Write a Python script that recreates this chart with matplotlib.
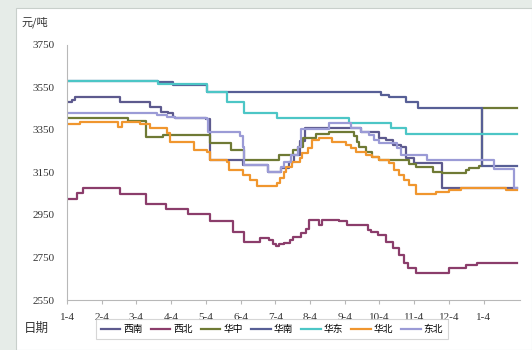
import matplotlib
matplotlib.use("Agg")
import matplotlib.pyplot as plt
from matplotlib.patches import Rectangle

plt.rcParams['font.family'] = ['Liberation Serif', 'Noto Sans CJK SC', 'DejaVu Sans']

# month positions (0 = Jan 4) and tick labels
tick_pos = list(range(13))
tick_labels = ["1-4", "2-4", "3-4", "4-4", "5-4", "6-4", "7-4", "8-4",
               "9-4", "10-4", "11-4", "12-4", "1-4"]
x_end = 12.96

# price series (元/吨): step change points as (month, price)
xinan_x = [0, 0.14, 0.23, 1.53, 2.38, 2.72, 2.91, 3.06, 3.10, 4.00, 4.11, 5.06, 5.78,
           6.17, 6.40, 6.55, 6.70, 6.85, 8.48, 8.99, 9.20, 9.40, 9.62, 9.77, 10.00, 10.81]
xinan_y = [3480, 3492, 3504, 3480, 3460, 3436, 3429, 3413, 3405, 3400, 3209, 3185, 3154,
           3170, 3200, 3232, 3300, 3358, 3342, 3311, 3303, 3279, 3271, 3217, 3195, 3076]

xibei_x = [0, 0.28, 0.47, 1.52, 2.29, 2.84, 3.48, 4.13, 4.78, 5.10, 5.55, 5.81, 5.93,
           6.03, 6.12, 6.26, 6.41, 6.50, 6.74, 6.89, 6.98, 7.27, 7.36, 7.84, 8.08, 8.66,
           8.76, 8.95, 9.19, 9.38, 9.57, 9.71, 9.81, 10.05, 11.01, 11.49, 11.82]
xibei_y = [3025, 3052, 3076, 3049, 3000, 2977, 2953, 2923, 2871, 2824, 2840, 2830, 2815,
           2804, 2812, 2818, 2830, 2848, 2864, 2883, 2926, 2905, 2926, 2920, 2903, 2879,
           2868, 2856, 2824, 2793, 2762, 2723, 2699, 2676, 2699, 2715, 2726]

huazhong_x = [0, 1.75, 2.29, 2.76, 4.11, 4.73, 5.11, 6.12, 6.50, 6.65, 6.79, 7.17, 7.56,
              8.28, 8.35, 8.42, 8.60, 8.80, 8.99, 9.86, 10.05, 10.53, 10.81, 11.49, 11.58,
              11.87, 11.96]
huazhong_y = [3405, 3392, 3318, 3328, 3287, 3256, 3209, 3232, 3256, 3271, 3311, 3331, 3342,
              3320, 3295, 3268, 3245, 3224, 3209, 3190, 3177, 3154, 3146, 3160, 3170,
              3181, 3455]

huanan_x = [0, 2.61, 3.05, 4.02, 9.04, 9.28, 9.77, 10.11, 11.96]
huanan_y = [3582, 3574, 3562, 3530, 3515, 3507, 3483, 3455, 3181]

huadong_x = [0, 2.61, 4.02, 4.60, 5.11, 6.06, 8.13, 9.33, 9.76]
huadong_y = [3582, 3566, 3530, 3483, 3431, 3408, 3382, 3358, 3331]

huabei_x = [0, 0.37, 1.47, 1.58, 2.10, 2.39, 2.87, 2.96, 3.65, 4.02, 4.11, 4.60, 4.68,
            5.06, 5.26, 5.46, 6.06, 6.15, 6.24, 6.32, 6.49, 6.70, 6.78, 6.93, 7.07, 7.27,
            7.64, 8.05, 8.19, 8.33, 8.62, 8.79, 8.99, 9.28, 9.43, 9.57, 9.71, 9.86, 10.06,
            10.63, 11.01, 11.35, 12.64]
huabei_y = [3380, 3388, 3365, 3388, 3378, 3360, 3336, 3295, 3256, 3246, 3209, 3200, 3162,
            3138, 3115, 3088, 3101, 3125, 3150, 3175, 3200, 3218, 3240, 3265, 3303, 3312,
            3295, 3280, 3265, 3248, 3232, 3224, 3209, 3193, 3162, 3138, 3115, 3091, 3050,
            3060, 3068, 3076, 3068]

dongbei_x = [0, 0.57, 2.58, 2.87, 3.10, 4.02, 4.06, 4.97, 5.06, 5.11, 5.78, 6.17, 6.26,
             6.46, 6.65, 6.74, 7.56, 8.18, 8.47, 8.71, 8.85, 8.99, 9.52, 9.62, 10.38,
             12.30, 12.87]
dongbei_y = [3429, 3432, 3422, 3413, 3405, 3400, 3340, 3320, 3271, 3185, 3154, 3177, 3200,
             3232, 3271, 3353, 3382, 3358, 3342, 3326, 3303, 3287, 3264, 3232, 3209,
             3165, 3076]

series = [
    ("西南", xinan_x, xinan_y, "#5d5a8e"),
    ("西北", xibei_x, xibei_y, "#8b3d6b"),
    ("华中", huazhong_x, huazhong_y, "#6f7a35"),
    ("华南", huanan_x, huanan_y, "#575f96"),
    ("华东", huadong_x, huadong_y, "#4cc6c6"),
    ("华北", huabei_x, huabei_y, "#f0962e"),
    ("东北", dongbei_x, dongbei_y, "#9b9bd6"),
]

fig = plt.figure(figsize=(5.32, 3.5), dpi=100, facecolor="#e6ece8")
# white panel with a thin border, behind the axes
panel = Rectangle((16 / 532, 0), 1 - 16 / 532, 1 - 8 / 350, transform=fig.transFigure,
                  facecolor="white", edgecolor="#c8cfcb", linewidth=0.8, zorder=-10)
fig.patches.append(panel)

ax = fig.add_axes([67 / 532, 1 - 300 / 350, (520 - 67) / 532, (300 - 45) / 350])
ax.set_facecolor("none")
ax.set_zorder(1)

for name, xs, ys, col in series:
    ax.step(list(xs) + [x_end], list(ys) + [ys[-1]], where="post",
            color=col, linewidth=1.6, label=name)

ax.set_xlim(0, 13.05)
ax.set_ylim(2550, 3750)
ax.set_yticks([2550, 2750, 2950, 3150, 3350, 3550, 3750])
ax.set_xticks(tick_pos)
ax.set_xticklabels(tick_labels)

for s in ("top", "right"):
    ax.spines[s].set_visible(False)
for s in ("left", "bottom"):
    ax.spines[s].set_color("#b8b8b8")
    ax.spines[s].set_linewidth(0.8)

ax.tick_params(axis="x", colors="#b8b8b8", labelcolor="#333333", labelsize=8,
               length=3, width=0.8, pad=6)
ax.tick_params(axis="y", colors="#b8b8b8", labelcolor="#333333", labelsize=8,
               length=0, pad=9)

fig.text(22 / 532, 1 - 22 / 350, "元/吨", fontsize=8, color="#333333",
         va="center", ha="left", family=["Noto Sans CJK SC"])
fig.text(24 / 532, 1 - 328 / 350, "日期", fontsize=9, color="#333333",
         va="center", ha="left", family=["Noto Sans CJK SC"])

leg = fig.legend(loc="center", bbox_to_anchor=(272 / 532, 1 - 329 / 350), ncol=7,
                 frameon=True, fancybox=False, edgecolor="#cccccc",
                 handlelength=2.0, handletextpad=0.3, columnspacing=0.85,
                 borderpad=0.5, prop={"family": ["Noto Sans CJK SC"], "size": 7})
leg.get_frame().set_linewidth(0.8)

fig.savefig("out.png", dpi=100, facecolor=fig.get_facecolor())
